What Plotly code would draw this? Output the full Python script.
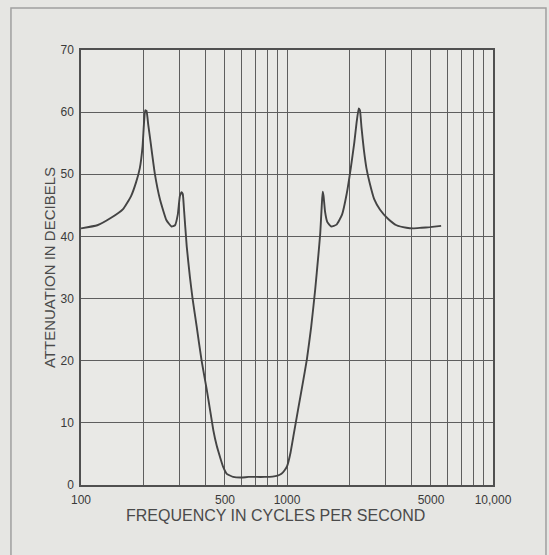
import plotly.graph_objects as go

freq = [100, 120, 140, 160, 175, 185, 193, 199, 202, 205, 208, 212, 218, 228, 242, 260,
        275, 286, 295, 302, 308, 312, 316, 326, 338, 348, 364, 385, 407, 423, 439, 456,
        473, 490, 510, 548, 600, 650, 710, 780, 850, 900, 940, 970, 1000, 1040, 1080,
        1130, 1190, 1250, 1310, 1370, 1420, 1450, 1475, 1490, 1505, 1530, 1570, 1640,
        1740, 1850, 1950, 2040, 2120, 2180, 2230, 2260, 2300, 2360, 2430, 2520, 2650,
        2830, 3100, 3400, 3800, 4100, 4500, 4940, 5600]
atten = [41.3, 41.8, 43.0, 44.4, 46.5, 48.7, 51.0, 54.5, 58.0, 60.3, 60.2, 58.0, 55.0,
         50.2, 45.9, 42.6, 41.6, 41.8, 43.5, 46.5, 47.1, 46.8, 44.5, 38.4, 33.4, 30.0,
         25.6, 20.0, 15.5, 12.1, 8.8, 6.3, 4.5, 2.9, 1.8, 1.3, 1.2, 1.3, 1.3, 1.3, 1.35,
         1.5, 1.8, 2.3, 3.0, 5.2, 8.3, 12.0, 16.2, 20.3, 25.4, 31.4, 37.0, 40.5, 45.0,
         47.2, 46.5, 44.0, 42.3, 41.6, 41.9, 43.5, 46.9, 51.0, 55.0, 58.5, 60.6, 60.3,
         57.5, 54.0, 51.0, 48.6, 46.0, 44.3, 42.8, 41.8, 41.4, 41.3, 41.4, 41.5, 41.7]

grid_vals = [100, 200, 300, 400, 500, 600, 700, 800, 900,
             1000, 2000, 3000, 4000, 5000, 6000, 7000, 8000, 9000, 10000]
grid_text = ["100", "", "", "", "500", "", "", "", "",
             "1000", "", "", "", "5000", "", "", "", "", "10,000"]

ink = "#444444"

fig = go.Figure(go.Scatter(
    x=freq, y=atten, mode="lines",
    line=dict(color=ink, width=1.9, shape="spline", smoothing=0.4),
    showlegend=False, hoverinfo="skip",
))

fig.update_layout(
    width=549, height=555,
    margin=dict(l=81, r=56, t=50, b=70),
    paper_bgcolor="#e6e6e3",
    plot_bgcolor="#e9e9e6",
    font=dict(family="Liberation Sans, Arial, sans-serif", color="#3a3a3a", size=12),
    xaxis=dict(
        type="log", range=[2, 4],
        tickmode="array", tickvals=grid_vals, ticktext=grid_text,
        showgrid=True, gridcolor="#5e5e5e", gridwidth=1.2,
        showline=True, linecolor="#505050", linewidth=1.5, mirror=True,
        ticks="", zeroline=False, ticklabelstandoff=3,
    ),
    yaxis=dict(
        range=[0, 70], dtick=10,
        showgrid=True, gridcolor="#5e5e5e", gridwidth=1.2,
        showline=True, linecolor="#505050", linewidth=1.5, mirror=True,
        ticks="", zeroline=False, ticklabelstandoff=3,
        title=dict(text="ATTENUATION IN DECIBELS", font=dict(size=15, color="#4a4a4a"),
                   standoff=1),
    ),
)

fig.add_annotation(text="FREQUENCY IN CYCLES PER SECOND", xref="paper", yref="paper",
                   x=0.471, y=-0.069, showarrow=False, xanchor="center", yanchor="middle",
                   font=dict(size=16, color="#4a4a4a"))

# outer frame of the printed figure (open at the bottom)
fig.add_shape(type="path", xref="paper", yref="paper",
              path="M -0.17,-0.2 L -0.17,1.0966 L 1.1286,1.0966 L 1.1286,-0.2",
              line=dict(color="#a0a0a0", width=1.5))

fig.write_html("out.html", config={"displayModeBar": False},
               post_script="document.body.style.margin='0';")
